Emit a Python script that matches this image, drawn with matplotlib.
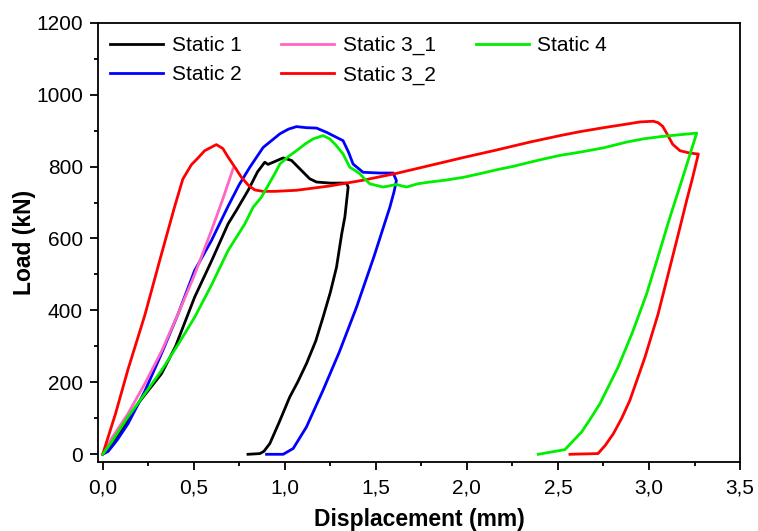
import matplotlib
matplotlib.use("Agg")
import matplotlib.pyplot as plt
from matplotlib.ticker import MultipleLocator, FuncFormatter

plt.rcParams['font.family'] = ['Liberation Sans', 'DejaVu Sans']

# Static 1 (black): loading then unloading
s1_x = [0, 0.05, 0.139, 0.2, 0.323, 0.4, 0.505, 0.6, 0.689, 0.734, 0.8, 0.85, 0.89, 0.908,
        0.936, 0.991, 1.037, 1.082, 1.137, 1.174, 1.25, 1.339, 1.348, 1.33, 1.313, 1.284,
        1.25, 1.21, 1.17, 1.119, 1.07, 1.027, 0.97, 0.918, 0.885, 0.863, 0.798]
s1_y = [0, 30, 94, 145, 224, 300, 437, 540, 641, 678, 735, 785, 812, 806,
        812, 824, 817, 794, 766, 757, 754, 754, 743, 660, 614, 520,
        450, 381, 315, 252, 200, 159, 90, 30, 8, 2, 0]

# Static 2 (blue)
s2_x = [0, 0.03, 0.08, 0.139, 0.231, 0.323, 0.414, 0.505, 0.597, 0.689, 0.75, 0.808, 0.881,
        0.973, 1.02, 1.064, 1.12, 1.174, 1.23, 1.265, 1.32, 1.35, 1.375, 1.43, 1.522, 1.595,
        1.613, 1.6, 1.577, 1.49, 1.394, 1.3, 1.21, 1.119, 1.046, 0.991, 0.9]
s2_y = [0, 8, 40, 85, 175, 280, 390, 511, 594, 690, 750, 798, 853,
        891, 904, 911, 908, 907, 895, 886, 872, 840, 807, 784, 782, 782,
        761, 730, 687, 550, 409, 285, 178, 76, 16, 0, 0]

# Static 3_1 (pink)
s31_x = [0, 0.05, 0.139, 0.231, 0.323, 0.414, 0.505, 0.597, 0.66, 0.716]
s31_y = [0, 45, 113, 196, 286, 390, 500, 622, 710, 794]

# Static 3_2 (red)
s32_x = [0, 0.07, 0.139, 0.231, 0.323, 0.396, 0.44, 0.487, 0.52, 0.56, 0.624, 0.66, 0.689,
         0.73, 0.762, 0.8, 0.835, 0.881, 0.945, 1.064, 1.247, 1.43, 1.613, 1.797, 1.98,
         2.163, 2.346, 2.511, 2.621, 2.75, 2.877, 2.95, 3.024, 3.05, 3.075, 3.1, 3.13,
         3.17, 3.22, 3.265, 3.271, 3.24, 3.207, 3.16, 3.115, 3.05, 2.978, 2.895, 2.85,
         2.804, 2.76, 2.72, 2.566]
s32_y = [0, 112, 236, 386, 557, 690, 765, 805, 822, 844, 861, 850, 826,
         795, 770, 748, 735, 731, 731, 734, 746, 762, 781, 803, 825,
         846, 868, 886, 897, 908, 918, 924, 926, 922, 912, 890, 862,
         844, 838, 835, 835, 770, 706, 610, 520, 390, 270, 150, 100,
         57, 25, 2, 0]

# Static 4 (green)
s4_x = [0, 0.05, 0.139, 0.231, 0.323, 0.414, 0.505, 0.597, 0.689, 0.78, 0.826, 0.872, 0.945,
        0.973, 1.02, 1.064, 1.11, 1.156, 1.21, 1.247, 1.28, 1.32, 1.357, 1.39, 1.412, 1.43,
        1.467, 1.54, 1.613, 1.668, 1.73, 1.797, 1.88, 1.98, 2.07, 2.163, 2.25, 2.346, 2.43,
        2.511, 2.621, 2.75, 2.877, 2.97, 3.06, 3.16, 3.262, 3.19, 3.115, 3.05, 2.987, 2.91,
        2.831, 2.731, 2.68, 2.63, 2.538, 2.392]
s4_y = [0, 35, 104, 168, 233, 305, 381, 470, 567, 640, 687, 715, 780,
        807, 828, 844, 862, 877, 886, 877, 860, 835, 798, 788, 780, 770,
        752, 743, 750, 743, 752, 757, 762, 770, 780, 791, 800, 812, 822,
        831, 840, 852, 868, 877, 883, 888, 893, 777, 659, 550, 446, 340,
        243, 141, 100, 62, 13, 0]

series = [
    (s1_x, s1_y, 'Static 1', 'black'),
    (s2_x, s2_y, 'Static 2', '#0000ff'),
    (s31_x, s31_y, 'Static 3_1', '#ff66c4'),
    (s32_x, s32_y, 'Static 3_2', '#ff0000'),
    (s4_x, s4_y, 'Static 4', '#00ee00'),
]

fig = plt.figure(figsize=(7.58, 5.31), dpi=100)
ax = fig.add_axes([0.1297, 0.1305, 0.8466, 0.8268])

for x, y, lab, col in series:
    ax.plot(x, y, color=col, lw=2.0, label=lab)

ax.set_xlim(-0.024, 3.5)
ax.set_ylim(-20.6, 1200)
ax.xaxis.set_major_locator(MultipleLocator(0.5))
ax.xaxis.set_minor_locator(MultipleLocator(0.25))
ax.yaxis.set_major_locator(MultipleLocator(200))
ax.yaxis.set_minor_locator(MultipleLocator(100))
ax.xaxis.set_major_formatter(FuncFormatter(lambda v, p: f"{v:.1f}".replace('.', ',')))
ax.yaxis.set_major_formatter(FuncFormatter(lambda v, p: f"{v:.0f}"))

for s in ax.spines.values():
    s.set_linewidth(1.3)
ax.tick_params(which='major', direction='out', length=6, width=1.3, labelsize=15)
ax.tick_params(which='minor', direction='out', length=3, width=1.3)
ax.tick_params(axis='x', which='major', pad=6)
ax.tick_params(axis='y', which='major', pad=5)

ax.set_xlabel('Displacement (mm)', fontsize=16.5, fontweight='bold', labelpad=8)
ax.set_ylabel('Load (kN)', fontsize=16.5, fontweight='bold', labelpad=0)

ax.legend(loc='upper left', bbox_to_anchor=(0.018, 0.97), ncol=3, frameon=False,
          fontsize=15, handlelength=2.55, handletextpad=0.42, labelspacing=0.5,
          columnspacing=1.9, borderpad=0, borderaxespad=0)

fig.savefig('out.png', dpi=100)
